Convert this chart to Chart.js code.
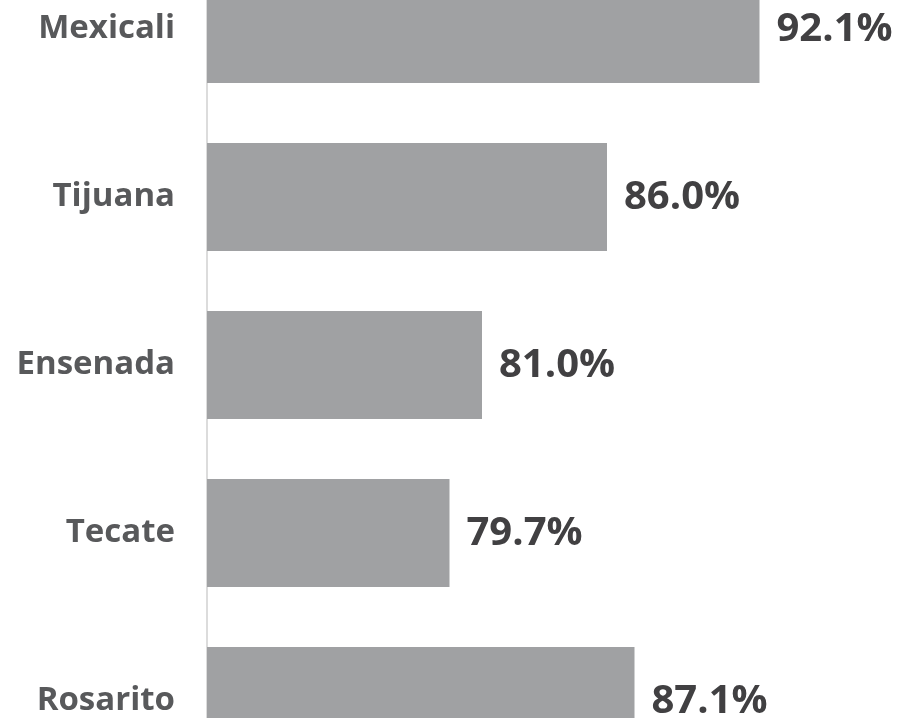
<!DOCTYPE html>
<html>
<head>
<meta charset="utf-8">
<script src="https://cdn.jsdelivr.net/npm/chart.js@4"></script>
<style>
  html, body { margin: 0; padding: 0; background: #fff; overflow: hidden; width: 898px; height: 718px; position: relative; }
  #c { position: absolute; left: 0; top: -55px; }
</style>
</head>
<body>
<canvas id="c" width="957" height="840" style="width:957px;height:840px;"></canvas>
<script>
const categories = ["Mexicali", "Tijuana", "Ensenada", "Tecate", "Rosarito"];
const values = [92.1, 86.0, 81.0, 79.7, 87.1];
const valueLabels = ["92.1%", "86.0%", "81.0%", "79.7%", "87.1%"];

const valueLabelPlugin = {
  id: 'valueLabels',
  afterDatasetsDraw(chart) {
    const ctx = chart.ctx;
    const meta = chart.getDatasetMeta(0);
    ctx.save();
    ctx.font = '700 40px "Open Sans"';
    ctx.fillStyle = '#414042';
    ctx.textAlign = 'left';
    ctx.textBaseline = 'middle';
    meta.data.forEach((bar, i) => {
      ctx.fillText(valueLabels[i], bar.x + 17, bar.y + 1);
    });
    ctx.restore();
  }
};

new Chart(document.getElementById('c'), {
  type: 'bar',
  data: {
    labels: categories,
    datasets: [{
      data: values,
      backgroundColor: '#a0a1a3',
      borderWidth: 0,
      categoryPercentage: 1,
      barPercentage: 108 / 168
    }]
  },
  options: {
    indexAxis: 'y',
    responsive: false,
    maintainAspectRatio: false,
    animation: false,
    layout: { padding: 0 },
    plugins: { legend: { display: false }, tooltip: { enabled: false } },
    scales: {
      x: { display: false, min: 70, max: 100 },
      y: {
        afterFit(axis) {
          axis.width = 207;
          axis.paddingTop = 0;
          axis.paddingBottom = 0;
        },
        grid: { display: false, drawTicks: false },
        border: { display: true, color: '#dcdcdc', width: 2 },
        ticks: {
          padding: 32,
          color: '#58595b',
          font: { family: '"Open Sans"', weight: '700', size: 33 }
        }
      }
    }
  },
  plugins: [valueLabelPlugin]
});
</script>
</body>
</html>
